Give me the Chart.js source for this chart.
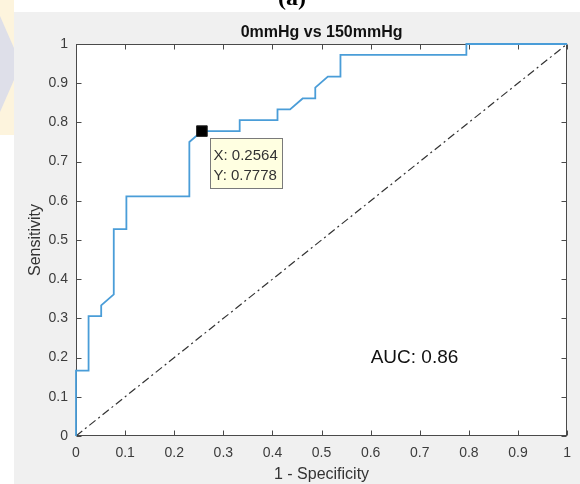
<!DOCTYPE html>
<html>
<head>
<meta charset="utf-8">
<script src="https://cdn.jsdelivr.net/npm/chart.js@4/dist/chart.umd.min.js"></script>
<style>
  html, body { margin: 0; padding: 0; background: #fff; }
  canvas { display: block; }
</style>
</head>
<body>
<canvas id="roc-chart" width="580" height="484"></canvas>
<script>
// ROC curve, 0mmHg vs 150mmHg
const fpr = [0, 0, 0.0256, 0.0256, 0.0513, 0.0513, 0.0769, 0.0769, 0.1026, 0.1026, 0.2308, 0.2308, 0.2564,
             0.3333, 0.3333, 0.4103, 0.4103, 0.4359, 0.4615, 0.4872, 0.4872, 0.5128, 0.5385, 0.5385, 0.7949, 0.7949, 1];
const tpr = [0, 0.1667, 0.1667, 0.3056, 0.3056, 0.3333, 0.3611, 0.5278, 0.5278, 0.6111, 0.6111, 0.75, 0.7778,
             0.7778, 0.8056, 0.8056, 0.8333, 0.8333, 0.8611, 0.8611, 0.8889, 0.9167, 0.9167, 0.9722, 0.9722, 1, 1];

// chance line
const diagX = [0, 1];
const diagY = [0, 1];

// data tip on the curve
const tipX = [0.2564];
const tipY = [0.7778];

const aucValue = 0.86;
const aucPos = [0.6, 0.2];

const tickValues = [0, 0.1, 0.2, 0.3, 0.4, 0.5, 0.6, 0.7, 0.8, 0.9, 1];
const tickLabels = ['0', '0.1', '0.2', '0.3', '0.4', '0.5', '0.6', '0.7', '0.8', '0.9', '1'];

const chartTitle = '0mmHg vs 150mmHg';
const panelLabel = '(a)';
const xLabel = '1 - Specificity';
const yLabel = 'Sensitivity';

const FONT = "'Liberation Sans', Arial, sans-serif";
const AXIS_COLOR = '#4a4a4a';

function toPoints(xs, ys) {
    return xs.map((x, i) => ({ x: x, y: ys[i] }));
}

// figure background, axes box, inward ticks and the text annotations
const figurePlugin = {
    id: 'figure',
    beforeDraw(chart) {
        const { ctx, chartArea: a, width, height } = chart;
        ctx.save();
        ctx.fillStyle = '#ffffff';
        ctx.fillRect(0, 0, width, height);

        // faint page ribbon on the left edge
        ctx.fillStyle = '#fdf4dd';
        ctx.fillRect(0, 0, 14, 135);
        ctx.fillStyle = '#dedfe9';
        ctx.beginPath();
        ctx.moveTo(0, 16);
        ctx.lineTo(14, 48);
        ctx.lineTo(14, 80);
        ctx.lineTo(0, 112);
        ctx.closePath();
        ctx.fill();

        ctx.fillStyle = '#f0f0f0';
        ctx.fillRect(14, 12, width - 14, height - 12);
        ctx.fillStyle = '#ffffff';
        ctx.fillRect(a.left, a.top, a.right - a.left, a.bottom - a.top);

        // panel label, cut off by the top edge
        ctx.fillStyle = '#000';
        ctx.font = "bold 24px 'Liberation Serif', serif";
        ctx.textAlign = 'center';
        ctx.textBaseline = 'alphabetic';
        ctx.fillText(panelLabel, 292, 5);

        // title
        ctx.font = 'bold 16px ' + FONT;
        ctx.fillStyle = '#111';
        ctx.fillText(chartTitle, (a.left + a.right) / 2, 37);

        // axis labels
        ctx.font = '16px ' + FONT;
        ctx.fillStyle = '#333';
        ctx.fillText(xLabel, (a.left + a.right) / 2, 479);
        ctx.save();
        ctx.translate(40, (a.top + a.bottom) / 2);
        ctx.rotate(-Math.PI / 2);
        ctx.fillText(yLabel, 0, 0);
        ctx.restore();
        ctx.restore();
    },
    beforeDatasetsDraw(chart) {
        const { ctx, chartArea: a, scales } = chart;
        const L = Math.round(a.left) + 0.5, R = Math.round(a.right) - 0.5;
        const T = Math.round(a.top) + 0.5, B = Math.round(a.bottom) - 0.5;
        const tickLen = 5;
        ctx.save();
        ctx.strokeStyle = AXIS_COLOR;
        ctx.lineWidth = 1;
        ctx.strokeRect(L, T, R - L, B - T);
        ctx.beginPath();
        tickValues.forEach(v => {
            const px = Math.round(scales.x.getPixelForValue(v)) + 0.5;
            ctx.moveTo(px, B); ctx.lineTo(px, B - tickLen);
            ctx.moveTo(px, T); ctx.lineTo(px, T + tickLen);
            const py = Math.round(scales.y.getPixelForValue(v)) + 0.5;
            ctx.moveTo(L, py); ctx.lineTo(L + tickLen, py);
            ctx.moveTo(R, py); ctx.lineTo(R - tickLen, py);
        });
        ctx.stroke();
        ctx.restore();
    },
    afterDatasetsDraw(chart) {
        const { ctx, scales } = chart;
        ctx.save();

        // AUC annotation
        ctx.font = '19px ' + FONT;
        ctx.fillStyle = '#111';
        ctx.textAlign = 'left';
        ctx.textBaseline = 'middle';
        ctx.fillText('AUC: ' + aucValue.toFixed(2),
            scales.x.getPixelForValue(aucPos[0]), scales.y.getPixelForValue(aucPos[1]));

        // data tip box
        const px = scales.x.getPixelForValue(tipX[0]);
        const py = scales.y.getPixelForValue(tipY[0]);
        const bx = Math.round(px + 8) + 0.5, by = Math.round(py + 7) + 0.5;
        const bw = 72, bh = 50;
        ctx.fillStyle = '#ffffe1';
        ctx.fillRect(bx, by, bw, bh);
        ctx.strokeStyle = '#7a7a7a';
        ctx.lineWidth = 1;
        ctx.strokeRect(bx, by, bw, bh);
        ctx.font = '15px ' + FONT;
        ctx.fillStyle = '#333';
        ctx.fillText('X: ' + tipX[0].toFixed(4), bx + 3, by + 17);
        ctx.fillText('Y: ' + tipY[0].toFixed(4), bx + 3, by + 37);
        ctx.restore();
    }
};

function fixedTicks(scale) {
    scale.ticks = tickValues.map(v => ({ value: v }));
}

new Chart(document.getElementById('roc-chart'), {
    type: 'line',
    data: {
        datasets: [
            {
                type: 'scatter',
                label: 'tip',
                data: toPoints(tipX, tipY),
                pointStyle: 'rect',
                pointRadius: 7.5,
                backgroundColor: '#000',
                borderColor: '#222',
                borderWidth: 1
            },
            {
                label: 'ROC',
                data: toPoints(fpr, tpr),
                borderColor: '#4a9dd8',
                borderWidth: 1.8,
                pointRadius: 0,
                tension: 0,
                fill: false,
                clip: false
            },
            {
                label: 'chance',
                data: toPoints(diagX, diagY),
                borderColor: '#333333',
                borderWidth: 1.2,
                borderDash: [8, 3.5, 2, 3.5],
                pointRadius: 0,
                fill: false
            }
        ]
    },
    options: {
        responsive: false,
        animation: false,
        devicePixelRatio: 1,
        layout: { padding: { left: 0, top: 44, right: 12, bottom: 0 } },
        plugins: {
            legend: { display: false },
            tooltip: { enabled: false },
            title: { display: false }
        },
        scales: {
            x: {
                type: 'linear',
                min: 0,
                max: 1,
                afterBuildTicks: fixedTicks,
                afterFit(scale) { scale.height = 48; },
                grid: { display: false, drawTicks: false },
                border: { display: false },
                ticks: {
                    padding: 9,
                    color: '#3c3c3c',
                    font: { family: FONT, size: 14 },
                    maxRotation: 0,
                    callback: (v) => tickLabels[tickValues.indexOf(v)] ?? ''
                }
            },
            y: {
                type: 'linear',
                min: 0,
                max: 1,
                afterBuildTicks: fixedTicks,
                afterFit(scale) { scale.width = 76; },
                grid: { display: false, drawTicks: false },
                border: { display: false },
                ticks: {
                    padding: 8,
                    color: '#3c3c3c',
                    font: { family: FONT, size: 14 },
                    callback: (v) => tickLabels[tickValues.indexOf(v)] ?? ''
                }
            }
        }
    },
    plugins: [figurePlugin]
});
</script>
</body>
</html>
